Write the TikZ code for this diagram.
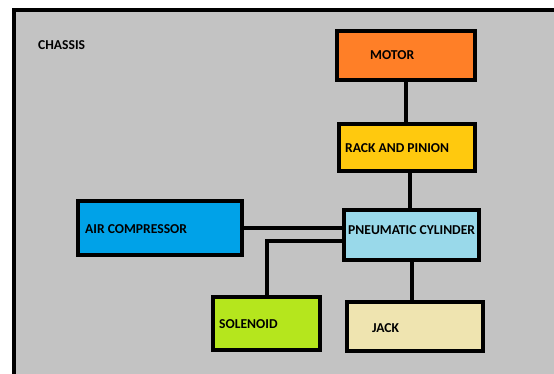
\documentclass[tikz,border=0pt]{standalone}
\usepackage{fontspec}
\setmainfont{Carlito}
\usetikzlibrary{calc}

\definecolor{chassisgray}{RGB}{195,195,195}
\definecolor{motorc}{RGB}{255,127,39}
\definecolor{rackc}{RGB}{255,201,14}
\definecolor{airc}{RGB}{0,162,232}
\definecolor{pneuc}{RGB}{153,217,234}
\definecolor{solc}{RGB}{181,230,29}
\definecolor{jackc}{RGB}{239,228,176}

\begin{document}
\begin{tikzpicture}[x=1pt,y=-1pt,
  blk/.style={draw=black, line width=4pt, rectangle, inner sep=0pt},
  txt/.style={anchor=west, inner sep=0pt, font=\fontsize{13.6}{15}\bfseries\selectfont},
  wire/.style={line width=4pt}]

\useasboundingbox (0,0) rectangle (554,374);
\clip (0,0) rectangle (554,374);
\draw[line width=4pt, fill=chassisgray] (14,10) rectangle (580,400);

\node[txt] (chassis) at (38,45) {CHASSIS};

\node[blk, fill=motorc, minimum width=138pt, minimum height=49pt] (motor) at (406,55.5) {};
\node[blk, fill=rackc,  minimum width=136pt, minimum height=47pt] (rack)  at (407,147.5) {};
\node[blk, fill=pneuc,  minimum width=135pt, minimum height=50pt] (pneu)  at (411.5,235) {};
\node[blk, fill=airc,   minimum width=164pt, minimum height=54pt] (air)   at (160,228) {};
\node[blk, fill=solc,   minimum width=107pt, minimum height=53pt] (sol)   at (266.5,323.5) {};
\node[blk, fill=jackc,  minimum width=136pt, minimum height=49pt] (jack)  at (415,326.5) {};

\node[txt] (motort) at (370,55) {MOTOR};
\node[txt] (rackt)  at (345,148) {RACK AND PINION};
\node[txt] (pneut)  at (348,230) {PNEUMATIC CYLINDER};
\node[txt] (airt)   at (85,229) {AIR COMPRESSOR};
\node[txt] (solt)   at (219,324) {SOLENOID};
\node[txt] (jackt)  at (372,328) {JACK};

% connections
\draw[wire] (motor.south) -- (motor.south |- rack.north);
\draw[wire] ([xshift=2.5pt]rack.south) -- ([xshift=2.5pt]rack.south |- pneu.north);
\draw[wire] (air.east) -- (air.east -| pneu.west);
\draw[wire] ([yshift=-6pt]pneu.west) -| (sol.north);
\draw[wire] (pneu.south) -- (pneu.south |- jack.north);

\end{tikzpicture}
\end{document}
